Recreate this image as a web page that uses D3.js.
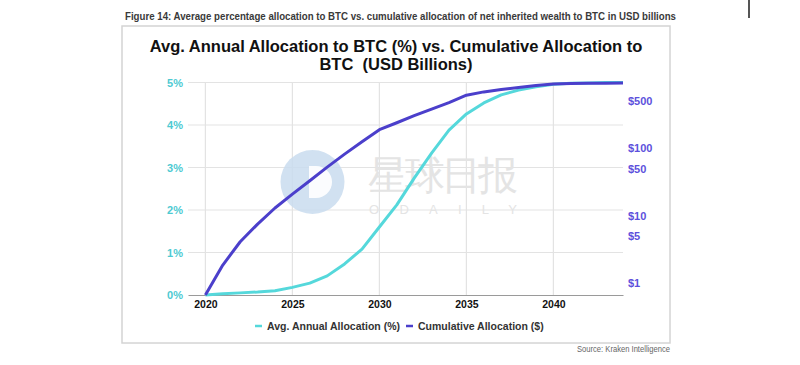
<!DOCTYPE html>
<html>
<head>
<meta charset="utf-8">
<script src="https://cdn.jsdelivr.net/npm/d3@7"></script>
<style>
  html, body { margin: 0; padding: 0; background: #fff; }
  svg { display: block; }
  text { font-family: "Liberation Sans", Arial, sans-serif; }
</style>
</head>
<body>
<svg id="chart" width="800" height="365"></svg>
<script>
// ---- data ----
const years = d3.range(2020, 2045);
const avgAllocationPct = [0, 0.03, 0.05, 0.07, 0.10, 0.18, 0.28, 0.45, 0.73, 1.08, 1.60, 2.12, 2.75, 3.34, 3.88, 4.26, 4.52, 4.71, 4.82, 4.90, 4.96, 4.98, 4.99, 5.0, 5.0];
const cumulativeUSDbn = [0.664, 1.85, 4.1, 7.5, 13, 20.9, 33, 52.6, 82, 125, 189, 240, 305, 382, 477, 615, 689, 748, 801, 857, 902, 918, 926, 928, 932];
const xTicks = [2020, 2025, 2030, 2035, 2040];
const leftTicks = [0, 1, 2, 3, 4, 5];
const rightTicks = [1, 5, 10, 50, 100, 500];
const seriesNames = ["Avg. Annual Allocation (%)", "Cumulative Allocation ($)"];
const caption = "Figure 14: Average percentage allocation to BTC vs. cumulative allocation of net inherited wealth to BTC in USD billions";
const titleLines = ["Avg. Annual Allocation to BTC (%) vs. Cumulative Allocation to", "BTC  (USD Billions)"];
const sourceText = "Source: Kraken Intelligence";

// ---- styles ----
const cyan = "#55d8db";
const purple = "#4b3fcb";
const cyanLabel = "#4ecad2";
const purpleLabel = "#5d51dc";

const svg = d3.select("#chart");

// top-right marker line
svg.append("line").attr("x1", 749).attr("x2", 749).attr("y1", 0).attr("y2", 18)
  .attr("stroke", "#555").attr("stroke-width", 2);

// caption
svg.append("text").attr("x", 125).attr("y", 20)
  .attr("font-size", 11.5).attr("font-weight", "bold").attr("fill", "#3a3a3a")
  .attr("textLength", 551).attr("lengthAdjust", "spacingAndGlyphs")
  .text(caption);

// frame
svg.append("rect").attr("x", 122).attr("y", 26).attr("width", 548).attr("height", 317)
  .attr("fill", "#fff").attr("stroke", "#d4d4d4").attr("stroke-width", 1.5);

// source
svg.append("text").attr("x", 670).attr("y", 352).attr("text-anchor", "end")
  .attr("font-size", 9).attr("fill", "#666")
  .attr("textLength", 93).attr("lengthAdjust", "spacingAndGlyphs")
  .text(sourceText);

// title
titleLines.forEach((t, i) => {
  svg.append("text").attr("x", 396).attr("y", 52 + i * 17.5).attr("text-anchor", "middle")
    .attr("font-size", 16.5).attr("font-weight", "bold").attr("fill", "#111")
    .style("white-space", "pre")
    .text(t);
});

// scales
const x = d3.scaleLinear().domain([2019, 2044]).range([188, 623]);
const yL = d3.scaleLinear().domain([0, 5]).range([295, 82.5]);
const yR = d3.scaleLog().domain([0.664, 950]).range([295, 82.5]);

// gridlines
const grid = svg.append("g");
grid.selectAll(".h").data(leftTicks.filter(d => d > 0)).join("line")
  .attr("x1", 188).attr("x2", 623).attr("y1", d => yL(d)).attr("y2", d => yL(d))
  .attr("stroke", "#e3e3e3").attr("stroke-width", 1.2);
grid.selectAll(".v").data(xTicks).join("line")
  .attr("x1", d => x(d)).attr("x2", d => x(d)).attr("y1", 82.5).attr("y2", 295)
  .attr("stroke", "#e3e3e3").attr("stroke-width", 1.2);

// watermark
const wm = svg.append("g");
wm.append("circle").attr("cx", 312.5).attr("cy", 182).attr("r", 32).attr("fill", "#c9dcee").attr("opacity", 0.85);
wm.append("path").attr("d", "M309,166 L316,166 A16,16 0 0 1 316,198 L309,198 Z").attr("fill", "#fff").attr("opacity", 0.9);
wm.append("text").attr("x", 368).attr("y", 189).attr("font-size", 40)
  .attr("font-family", "'Noto Sans CJK SC', sans-serif").attr("fill", "#e4e4e4")
  .attr("textLength", 150).attr("lengthAdjust", "spacing").text("星球日报");
wm.append("text").attr("x", 369).attr("y", 214).attr("font-size", 13)
  .attr("fill", "#e4e4e4").attr("textLength", 148).attr("lengthAdjust", "spacing").text("ODAILY");

// axes
const xAxis = svg.append("g").attr("transform", "translate(0,295)")
  .call(d3.axisBottom(x).tickValues(xTicks).tickFormat(d3.format("d")).tickSize(0).tickPadding(6));
xAxis.select(".domain").attr("stroke", "#9a9a9a").attr("stroke-width", 1.2);
xAxis.selectAll("text").attr("font-size", 10.5).attr("font-weight", "bold").attr("fill", "#111")
  .attr("font-family", "'Liberation Sans', Arial, sans-serif");

const lAxis = svg.append("g").attr("transform", "translate(183,0)")
  .call(d3.axisLeft(yL).tickValues(leftTicks).tickFormat(d => d + "%").tickSize(0).tickPadding(0));
lAxis.select(".domain").remove();
lAxis.selectAll("text").attr("font-size", 11).attr("font-weight", "bold").attr("fill", cyanLabel)
  .attr("font-family", "'Liberation Sans', Arial, sans-serif");

const rAxis = svg.append("g").attr("transform", "translate(628,0)")
  .call(d3.axisRight(yR).tickValues(rightTicks).tickFormat(d => "$" + d).tickSize(0).tickPadding(0));
rAxis.select(".domain").remove();
rAxis.selectAll("text").attr("font-size", 11).attr("font-weight", "bold").attr("fill", purpleLabel)
  .attr("font-family", "'Liberation Sans', Arial, sans-serif");

// lines
const lineL = d3.line().x((d, i) => x(years[i])).y(d => yL(d));
const lineR = d3.line().x((d, i) => x(years[i])).y(d => yR(d));
svg.append("path").datum(avgAllocationPct).attr("d", lineL)
  .attr("fill", "none").attr("stroke", cyan).attr("stroke-width", 3).attr("stroke-linejoin", "round");
svg.append("path").datum(cumulativeUSDbn).attr("d", lineR)
  .attr("fill", "none").attr("stroke", purple).attr("stroke-width", 3).attr("stroke-linejoin", "round");

// legend
const legend = [
  { name: seriesNames[0], color: cyan, x: 255 },
  { name: seriesNames[1], color: purple, x: 406 }
];
legend.forEach(l => {
  svg.append("line").attr("x1", l.x).attr("x2", l.x + 7).attr("y1", 326).attr("y2", 326)
    .attr("stroke", l.color).attr("stroke-width", 2.5);
  svg.append("text").attr("x", l.x + 12).attr("y", 329.5).attr("font-size", 10.5)
    .attr("font-weight", "bold").attr("fill", "#333").text(l.name);
});
</script>
</body>
</html>
